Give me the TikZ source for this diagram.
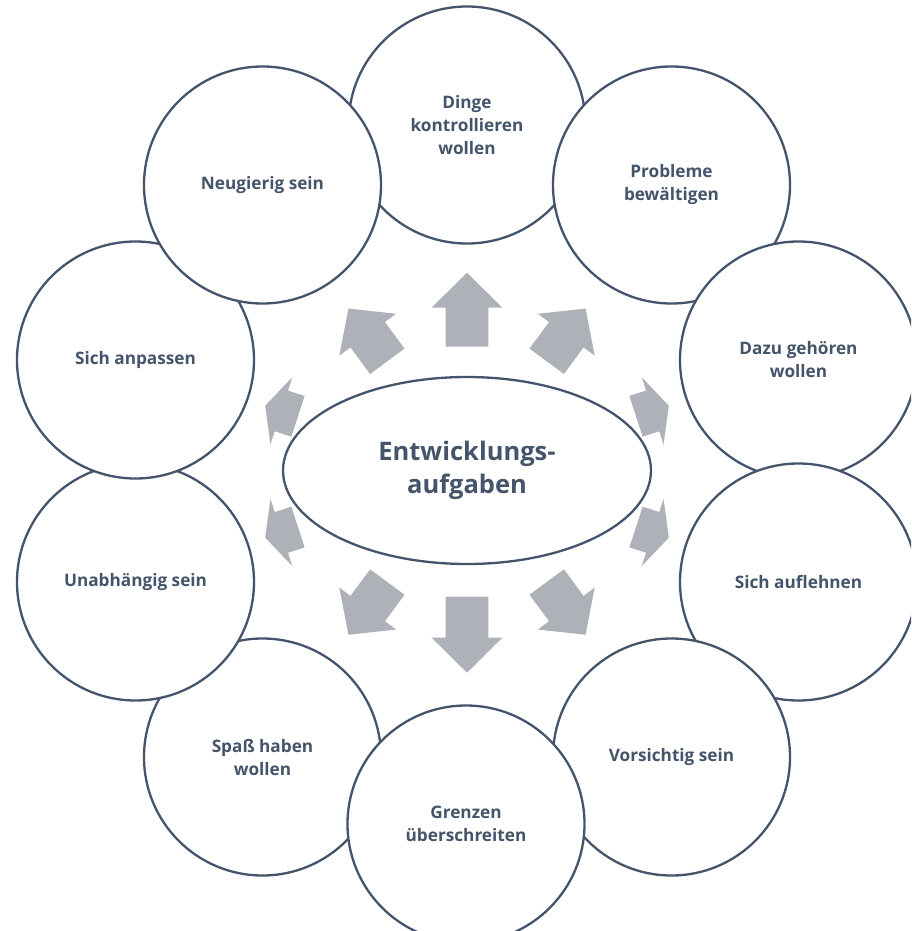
\documentclass[tikz,border=0pt]{standalone}
\usepackage{fontspec}
\setmainfont{Open Sans}
\usetikzlibrary{shapes.geometric}
\definecolor{dk}{HTML}{44546A}
\definecolor{ag}{RGB}{174,177,184}
\tikzset{
  circ/.style={circle, draw=dk, line width=2.3pt, fill=white, minimum size=237pt, inner sep=0pt, align=center, text=dk, font=\bfseries\fontsize{17.2}{23}\selectfont},
  ell/.style={ellipse, draw=dk, line width=2.3pt, fill=white, minimum width=368pt, minimum height=187pt, inner sep=0pt, align=center, text=dk, font=\bfseries\fontsize{25.5}{33}\selectfont},
  blockarr/.style={fill=ag}
}
\newcommand\blockarrow[5]{%
  \fill[blockarr, shift={(#1,#2)}, rotate=#3] (0,-21.4) -- (#4,-21.4) -- (#4,-35.35) -- ({#4+#5},0) -- (#4,35.35) -- (#4,21.4) -- (0,21.4) -- cycle;}
\begin{document}
\begin{tikzpicture}[x=1pt, y=-1pt]
\useasboundingbox (0,0) rectangle (911,931);
\clip (0,0) rectangle (911,931);
% arrows
\blockarrow{467}{346.7}{90}{39}{35}
\blockarrow{467}{596.7}{-90}{41}{35}
\blockarrow{387.3}{361.3}{126.4}{33}{32.5}
\blockarrow{546.7}{361.3}{53.6}{33}{32.5}
\blockarrow{387.3}{582}{-126.4}{33}{32.5}
\blockarrow{546.7}{582}{-53.6}{33}{32.5}
\blockarrow{298}{416.3}{162}{17.5}{17}
\blockarrow{636}{416.3}{18}{17.5}{17}
\blockarrow{298}{527}{-162}{17.5}{17}
\blockarrow{636}{527}{-18}{17.5}{17}
% centre
\node[ell] (center) at (467,470.5) {Entwicklungs-\\aufgaben};
% circles
\node[circ] (dinge) at (467,125) {Dinge\\kontrollieren\\wollen};
\node[circ] (probleme) at (671.5,185) {Probleme\\bewältigen};
\node[circ] (dazu) at (798.5,360) {Dazu gehören\\wollen};
\node[circ] (auflehnen) at (798.5,582) {Sich auflehnen};
\node[circ] (vorsichtig) at (671.5,757) {Vorsichtig sein};
\node[circ] (spass) at (262.5,757) {Spaß haben\\wollen};
\node[circ] (grenzen) at (466,824) {Grenzen\\überschreiten};
\node[circ] (unabh) at (135.5,582) {Unabhängig sein};
\node[circ] (anpassen) at (135.5,360) {Sich anpassen};
\node[circ] (neugierig) at (262.5,185) {Neugierig sein};
\end{tikzpicture}
\end{document}
